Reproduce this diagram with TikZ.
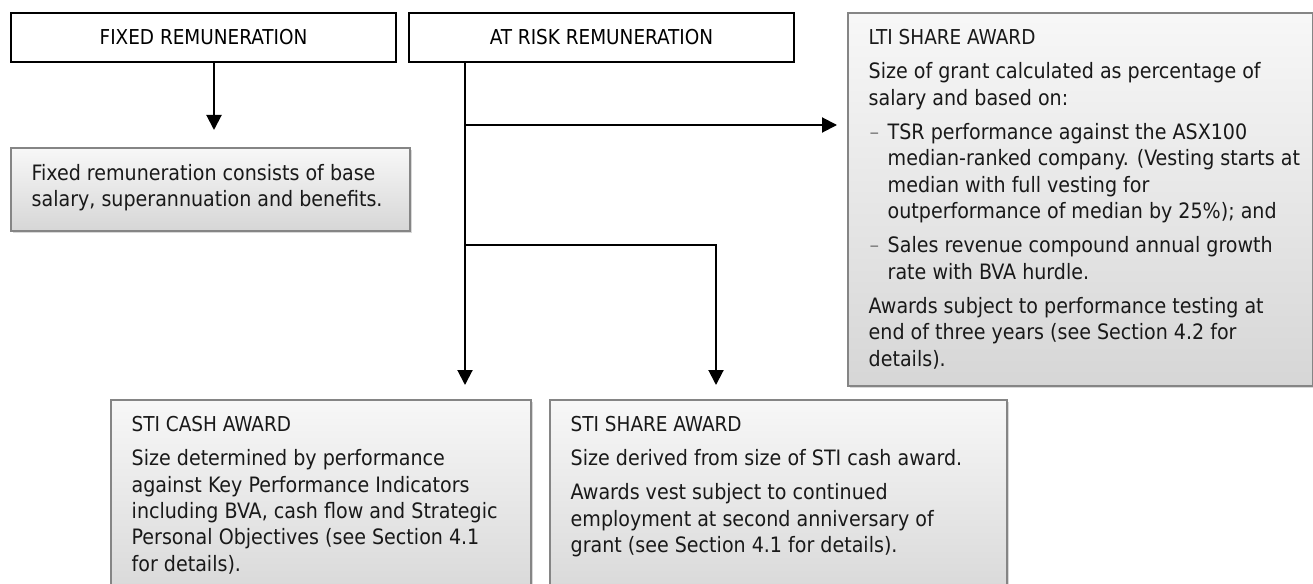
\documentclass[tikz,border=0pt]{standalone}
\usepackage{fontspec}
\setmainfont{DejaVu Sans Condensed}
\usepackage{tikz}
\usetikzlibrary{arrows.meta,positioning,shadows}
\usepackage{xcolor}
\newcommand{\pargap}{7.8pt}
\newcommand{\bulind}{19pt}
\newcommand{\bul}{\makebox[\bulind][l]{\hspace{1pt}\textcolor{gray}{–}}}
\newcommand{\bodyfont}{\fontsize{21.2}{26.4}\selectfont}
\newcommand{\capfont}{\fontsize{20.5}{26.4}\selectfont}
\tikzset{
    headsty/.style={draw=black,line width=2pt,rectangle,minimum width=385pt,minimum height=49pt,anchor=north west,inner sep=0pt,font=\capfont},
    awardsty/.style={draw=boxgray,line width=2pt,rectangle,top color=awardtop,bottom color=awardbot,anchor=north west,inner sep=0pt,
        drop shadow={shadow xshift=1.5pt,shadow yshift=-1.5pt,fill=black!30,opacity=.5}},
    txtsty/.style={anchor=north west,align=left,inner sep=0pt,text=textgray,font=\bodyfont},
    flowsty/.style={line width=2pt,->},
}
\colorlet{boxgray}{black!48}
\colorlet{awardtop}{black!3}
\colorlet{awardbot}{black!16}
\colorlet{textgray}{black!90}

\begin{document}
\begin{tikzpicture}[x=1pt,y=-1pt,>={Triangle[length=15pt,width=15pt]}]
  \useasboundingbox (0,0) rectangle (1313,583);
  \clip (0,0) rectangle (1313,583);

  % header boxes
  \node[headsty] (fixedhd) at (10,12) {FIXED REMUNERATION};
  \node[headsty] (riskhd) at (408,12) {AT RISK REMUNERATION};

  % award boxes
  \node[awardsty,minimum width=399pt,minimum height=83pt] (fixbox) at (10,147) {};
  \node[awardsty,minimum width=465pt,minimum height=373pt] (ltibox) at (847,12) {};
  \node[awardsty,minimum width=420pt,minimum height=210pt] (cashbox) at (110,399) {};
  \node[awardsty,minimum width=457pt,minimum height=210pt] (sharebox) at (549,399) {};

  \node[txtsty] (fixtxt) at ([shift={(21.5,17)}]fixbox.north west)
    {Fixed remuneration consists of base\\salary, superannuation and benefits.};
  \node[txtsty] (ltitxt) at ([shift={(21.5,17)}]ltibox.north west)
    {{\capfont LTI SHARE AWARD}\\[\pargap]
     Size of grant calculated as percentage of\\
     salary and based on:\\[\pargap]
     \bul TSR performance against the ASX100\\
     \hspace*{\bulind}median-ranked company. (Vesting starts at\\
     \hspace*{\bulind}median with full vesting for\\
     \hspace*{\bulind}outperformance of median by 25\%); and\\[\pargap]
     \bul Sales revenue compound annual growth\\
     \hspace*{\bulind}rate with BVA hurdle.\\[\pargap]
     Awards subject to performance testing at\\
     end of three years (see Section 4.2 for\\
     details).};
  \node[txtsty] (cashtxt) at ([shift={(21.5,17)}]cashbox.north west)
    {{\capfont STI CASH AWARD}\\[\pargap]
     Size determined by performance\\
     against Key Performance Indicators\\
     including BVA, cash flow and Strategic\\
     Personal Objectives (see Section 4.1\\
     for details).};
  \node[txtsty] (sharetxt) at ([shift={(21.5,17)}]sharebox.north west)
    {{\capfont STI SHARE AWARD}\\[\pargap]
     Size derived from size of STI cash award.\\[\pargap]
     Awards vest subject to continued\\
     employment at second anniversary of\\
     grant (see Section 4.1 for details).};

  % connectors
  \coordinate (fsplit) at ([xshift=204pt]fixedhd.south west);
  \coordinate (rsplit) at ([xshift=57pt]riskhd.south west);
  \coordinate (ltijoin) at ([yshift=-62pt]rsplit);
  \coordinate (stijoin) at ([yshift=-182pt]rsplit);

  \draw[flowsty,shorten >=17pt] (fsplit) -- (fsplit |- fixbox.north);
  \draw[flowsty,shorten >=14pt] (rsplit) -- (rsplit |- cashbox.north);
  \draw[flowsty,shorten >=10pt] (ltijoin) -- (ltijoin -| ltibox.west);
  \draw[flowsty,shorten >=14pt] (stijoin) -| ([xshift=167pt]sharebox.north west);
\end{tikzpicture}
\end{document}
